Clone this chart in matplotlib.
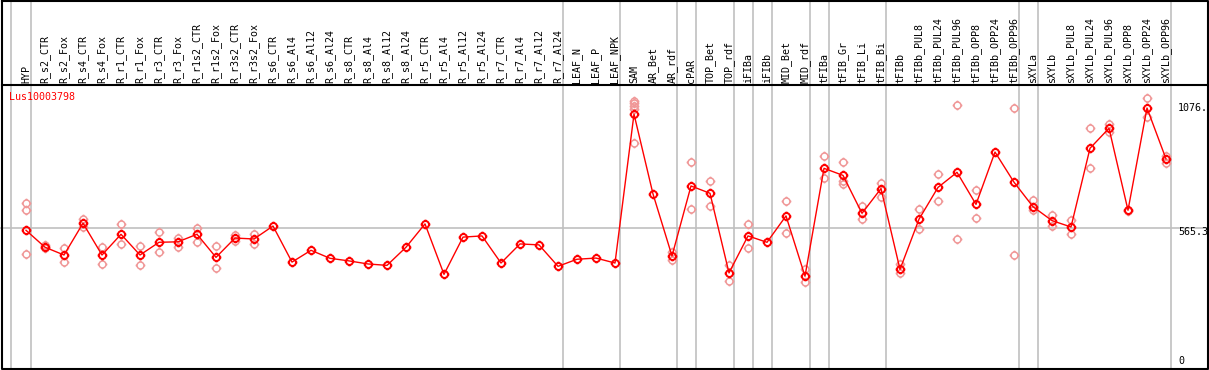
import matplotlib
matplotlib.use('Agg')
import matplotlib.pyplot as plt
import matplotlib.transforms as mtransforms
from matplotlib.path import Path

labels = ['HYP', 'R_s2_CTR', 'R_s2_Fox', 'R_s4_CTR', 'R_s4_Fox', 'R_r1_CTR', 'R_r1_Fox',
          'R_r3_CTR', 'R_r3_Fox', 'R_r1s2_CTR', 'R_r1s2_Fox', 'R_r3s2_CTR', 'R_r3s2_Fox',
          'R_s6_CTR', 'R_s6_Al4', 'R_s6_Al12', 'R_s6_Al24', 'R_s8_CTR', 'R_s8_Al4',
          'R_s8_Al12', 'R_s8_Al24', 'R_r5_CTR', 'R_r5_Al4', 'R_r5_Al12', 'R_r5_Al24',
          'R_r7_CTR', 'R_r7_Al4', 'R_r7_Al12', 'R_r7_Al24', 'LEAF_N', 'LEAF_P', 'LEAF_NPK',
          'SAM', 'AR_Bet', 'AR_rdf', 'cPAR', 'TOP_Bet', 'TOP_rdf', 'iFIBa', 'iFIBb',
          'MID_Bet', 'MID_rdf', 'tFIBa', 'tFIB_Gr', 'tFIB_Li', 'tFIB_Bi', 'tFIBb',
          'tFIBb_PUL8', 'tFIBb_PUL24', 'tFIBb_PUL96', 'tFIBb_OPP8', 'tFIBb_OPP24',
          'tFIBb_OPP96', 'sXYLa', 'sXYLb', 'sXYLb_PUL8', 'sXYLb_PUL24', 'sXYLb_PUL96',
          'sXYLb_OPP8', 'sXYLb_OPP24', 'sXYLb_OPP96']

means = [557, 485, 452, 587, 452, 540, 452, 506, 508, 540, 442, 524, 520, 575, 422,
         472, 438, 427, 414, 408, 485, 584, 370, 528, 533, 418, 499, 495, 404, 434, 439,
         418, 1050, 711, 448, 745, 714, 376, 533, 506, 618, 362, 820, 790, 629, 734, 391,
         604, 739, 803, 667, 889, 761, 657, 598, 571, 905, 990, 642, 1076, 860]

replicates = [[672, 643, 456], [495, 481], [481, 424], [605, 572], [485, 414],
              [582, 499], [490, 410], [550, 464], [523, 487], [568, 509], [492, 396],
              [537, 513], [540, 499], [], [], [], [], [], [], [], [], [], [], [], [],
              [], [], [], [], [], [], [],
              [1107, 1096, 1085, 1073, 926], [], [466, 431], [847, 647], [766, 660],
              [410, 340], [584, 481], [], [681, 547], [393, 337], [872, 778],
              [847, 766, 753], [660, 604], [758, 700], [413, 374], [646, 561],
              [795, 681], [1087, 519], [727, 608], [], [1076, 452], [686, 643],
              [622, 575], [601, 540], [990, 823], [1008, 973], [640], [1117, 1037],
              [874, 844]]

group_lines = [-0.8, 0.25, 28.25, 31.25, 34.25, 35.25, 37.25, 38.25, 39.25, 41.25,
               42.25, 45.25, 52.25, 53.25, 60.25]
ref_value = 565.3
gene = 'Lus10003798'

W, H = 1209, 370
fig = plt.figure(figsize=(W / 100, H / 100), dpi=100)

# column i sits at x = 26 + 19*i px, value v at y = 361.5 - 0.2356*v px
ax = fig.add_axes([0, 0, 1, 1])
ax.set_xlim(-26 / 19, (W - 26) / 19)
ax.set_ylim((361.5 - H) / 0.2356, 361.5 / 0.2356)
ax.axis('off')

# circle marker with four little ticks
circ = Path.unit_circle()
ticks = Path([(1, 0), (1.4, 0), (-1, 0), (-1.4, 0), (0, 1), (0, 1.4), (0, -1), (0, -1.4)],
             [Path.MOVETO, Path.LINETO] * 4)
gear = Path.make_compound_path(circ, ticks)

for x in group_lines:
    ax.axvline(x, color='#c0c0c0', lw=1.2, zorder=1)
ax.axhline(ref_value, color='#c0c0c0', lw=1.2, zorder=1)

for i, reps in enumerate(replicates):
    if reps:
        ax.plot([i] * len(reps), reps, linestyle='none', marker=gear, ms=7,
                mfc='none', mec='#f09898', mew=1.1, zorder=2)

ax.plot(range(len(means)), means, color='red', lw=1, zorder=3)
ax.plot(range(len(means)), means, linestyle='none', marker=gear, ms=7,
        mfc='none', mec='red', mew=1.4, zorder=4)

# sample names in the header band
trans = mtransforms.blended_transform_factory(ax.transData, ax.transAxes)
for i, lab in enumerate(labels):
    ax.text(i, (H - 83) / H, lab, rotation=90, ha='center', va='bottom',
            transform=trans, family='DejaVu Sans Mono', fontsize=7.2)

# pixel overlay for the frame and side texts
px = fig.add_axes([0, 0, 1, 1])
px.set_xlim(0, W)
px.set_ylim(H, 0)
px.axis('off')
px.patch.set_alpha(0)
px.plot([1.5, 1207.5, 1207.5, 1.5, 1.5], [0.5, 0.5, 368.5, 368.5, 0.5], color='black', lw=1.5)
px.plot([1.5, 1207.5], [85, 85], color='black', lw=1.5)
px.text(9, 97, gene, color='red', family='DejaVu Sans Mono', fontsize=7.2, va='center')
px.text(1178, 108, '1076.', family='DejaVu Sans Mono', fontsize=7.2, va='center')
px.text(1178, 232, '565.3', family='DejaVu Sans Mono', fontsize=7.2, va='center')
px.text(1178, 361, '0', family='DejaVu Sans Mono', fontsize=7.2, va='center')

fig.savefig('out.png', dpi=100)
